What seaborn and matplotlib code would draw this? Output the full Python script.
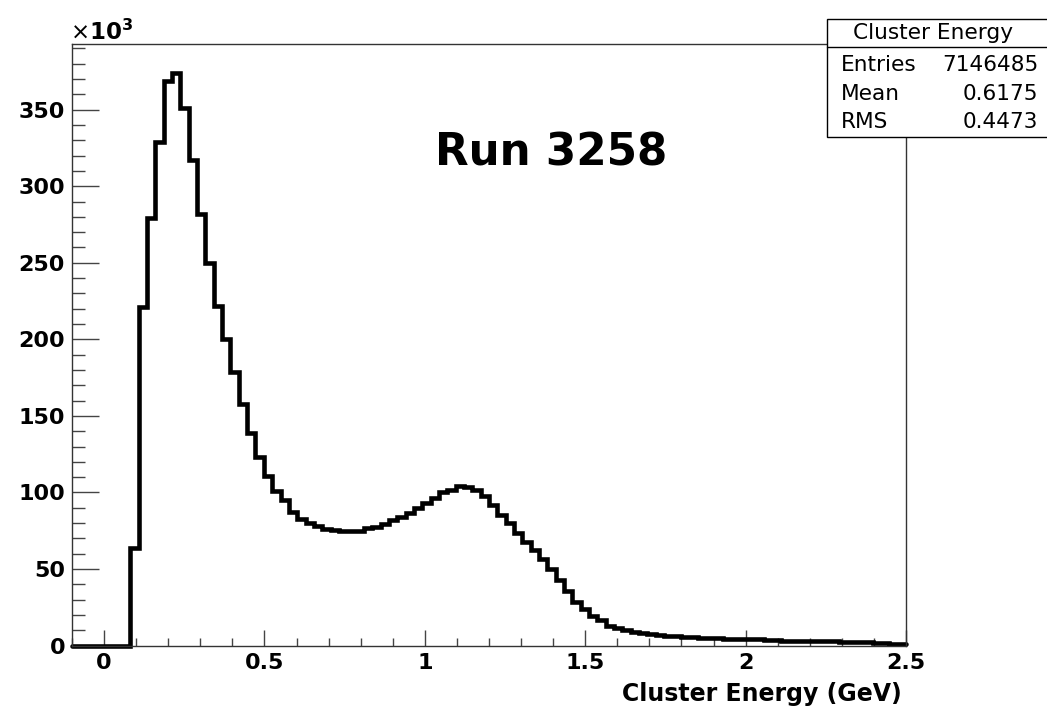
import numpy as np
import pandas as pd
import matplotlib
matplotlib.use("Agg")
import matplotlib.pyplot as plt
import seaborn as sns
from matplotlib.patches import Rectangle
from matplotlib.lines import Line2D
from matplotlib.ticker import MultipleLocator, FixedLocator, FixedFormatter

# ---------------- data ----------------
bin_lo, bin_hi, n_bins = -0.1, 2.5, 100
# bin contents in units of 10^3 entries
counts_k = [
    0, 0, 0, 0, 0, 0, 0, 64, 221, 279,
    329, 369, 374, 351, 317, 282, 250, 222, 200, 179,
    158, 139, 123, 110.5, 101, 95, 87.5, 83, 80, 78,
    76.3, 75.5, 74.9, 74.7, 74.9, 76.5, 77.6, 79.4, 82, 84,
    86.3, 89.6, 93.4, 96.5, 100.2, 101.8, 104.2, 103.3, 101.8, 97.5,
    91.5, 85.5, 80, 73.7, 67.8, 62.4, 56.3, 49.8, 43, 35.5,
    28.4, 24, 19.5, 16.4, 13, 11.2, 10.2, 9.1, 8.0, 7.4,
    6.6, 6.3, 6.1, 5.6, 5.4, 5.2, 5.0, 4.8, 4.4, 4.3,
    4.2, 4.1, 4.0, 3.8, 3.6, 3.3, 3.2, 3.1, 3.0, 2.9,
    2.8, 2.7, 2.4, 2.3, 2.2, 2.1, 2.0, 1.9, 1.3, 1.1,
]
x_ticks = [0, 0.5, 1, 1.5, 2, 2.5]
x_tick_labels = ["0", "0.5", "1", "1.5", "2", "2.5"]
y_ticks = [0, 50, 100, 150, 200, 250, 300, 350]
y_tick_labels = ["0", "50", "100", "150", "200", "250", "300", "350"]
stats_title = "Cluster Energy"
stats_names = ["Entries", "Mean", "RMS"]
stats_values = ["7146485", "0.6175", "0.4473"]
run_label = "Run 3258"
x_label = "Cluster Energy (GeV)"

edges = np.linspace(bin_lo, bin_hi, n_bins + 1)
centers = (edges[:-1] + edges[1:]) / 2
df = pd.DataFrame({"energy": centers, "count": counts_k})

# ---------------- figure ----------------
sns.set_style("white")
plt.rcParams["font.family"] = ["DejaVu Sans"]
plt.rcParams["text.color"] = "black"
plt.rcParams["axes.labelcolor"] = "black"
plt.rcParams["xtick.color"] = "black"
plt.rcParams["ytick.color"] = "black"

W, H = 1047, 713
fig = plt.figure(figsize=(W / 100, H / 100), dpi=100)
ax_l, ax_r, ax_t, ax_b = 72, 906, 44.3, 645.6
ax = fig.add_axes([ax_l / W, 1 - ax_b / H, (ax_r - ax_l) / W, (ax_b - ax_t) / H])

sns.histplot(data=df, x="energy", weights="count", bins=edges.tolist(),
             element="step", fill=False, color="black", linewidth=3.3, ax=ax)
for ln in ax.lines:
    ln.set_clip_on(False)
    ln.set_solid_joinstyle("miter")

ax.set_xlim(bin_lo, bin_hi)
ax.set_ylim(0, max(counts_k) * 1.05)
ax.set_ylabel("")

frame_col = "#333333"
for sp in ax.spines.values():
    sp.set_color(frame_col)
    sp.set_linewidth(1.0)

ax.xaxis.set_major_locator(FixedLocator(x_ticks))
ax.xaxis.set_major_formatter(FixedFormatter(x_tick_labels))
ax.xaxis.set_minor_locator(MultipleLocator(0.1))
ax.yaxis.set_major_locator(FixedLocator(y_ticks))
ax.yaxis.set_major_formatter(FixedFormatter(y_tick_labels))
ax.yaxis.set_minor_locator(MultipleLocator(10))

ax.tick_params(axis="both", which="both", direction="in", bottom=True, left=True,
               top=False, right=False, color="#444444", width=1.0,
               labelcolor="black")
ax.tick_params(axis="x", which="major", length=11.5, pad=5, labelsize=16)
ax.tick_params(axis="x", which="minor", length=5.8)
ax.tick_params(axis="y", which="major", length=19.5, pad=5, labelsize=16)
ax.tick_params(axis="y", which="minor", length=9.4)
for lab in ax.get_xticklabels() + ax.get_yticklabels():
    lab.set_fontweight("bold")

ax.set_xlabel(x_label, fontsize=17, fontweight="bold", loc="right", color="black")
ax.xaxis.set_label_coords((902 - ax_l) / (ax_r - ax_l), -(682 - ax_b) / (ax_b - ax_t))
ax.xaxis.label.set_va("top")

# x10^3 multiplier
fig.text(70 / W, 1 - 40 / H, r"$\times\mathbf{10^{3}}$", fontsize=16.5,
         ha="left", va="baseline", color="black")

# run label
fig.text(551 / W, 1 - 165 / H, run_label, fontsize=31.4, fontweight="bold",
         ha="center", va="baseline", color="black")

# stats box
bx_l, bx_t, bx_b, bx_sep = 827.3, 19.3, 136.7, 47.3
fig.add_artist(Rectangle((bx_l / W, 1 - bx_b / H), (W + 10 - bx_l) / W, (bx_b - bx_t) / H,
                         transform=fig.transFigure, facecolor="white",
                         edgecolor="black", linewidth=1.0, clip_on=False, zorder=5))
fig.add_artist(Line2D([bx_l / W, 1.0], [1 - bx_sep / H] * 2, transform=fig.transFigure,
                      color="black", linewidth=1.0, zorder=6))
fig.text(933 / W, 1 - 33 / H, stats_title, fontsize=15.6, ha="center", va="center",
         zorder=7, color="black")
row_y = [65, 94.5, 121.5]
for name, val, yy in zip(stats_names, stats_values, row_y):
    fig.text(840.5 / W, 1 - yy / H, name, fontsize=15.6, ha="left", va="center",
             zorder=7, color="black")
    fig.text(1038.5 / W, 1 - yy / H, val, fontsize=15.6, ha="right", va="center",
             zorder=7, color="black")

fig.savefig("out.png", dpi=100, facecolor="white")
